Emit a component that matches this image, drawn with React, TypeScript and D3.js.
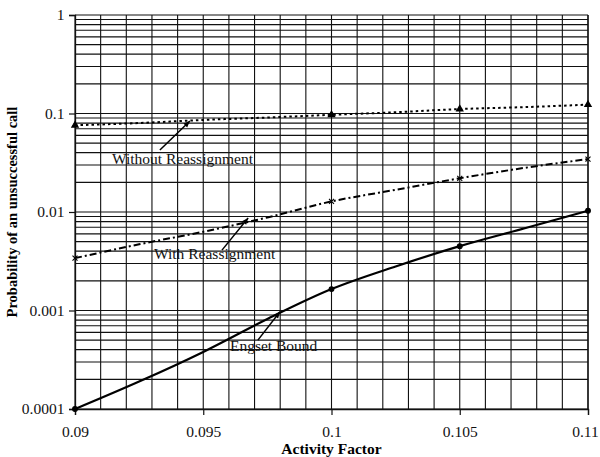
import React, { useEffect, useRef } from "react";
import * as d3 from "d3";

const activity = [0.09, 0.0925, 0.095, 0.0975, 0.1, 0.1025, 0.105, 0.1075, 0.11];
const withoutReassign = [0.076, 0.080, 0.086, 0.091, 0.097, 0.103, 0.111, 0.116, 0.123];
const withReassign = [0.0034, 0.0047, 0.0063, 0.0088, 0.0128, 0.0168, 0.022, 0.028, 0.0345];
const engsetBound = [0.0001, 0.00019, 0.00038, 0.00082, 0.00165, 0.0028, 0.0045, 0.0068, 0.0103];

const xTicks = [0.09, 0.095, 0.1, 0.105, 0.11];
const yTicks = [0.0001, 0.001, 0.01, 0.1, 1];
const yTickLabels = ["0.0001", "0.001", "0.01", "0.1", "1"];

// label text, label anchor (x, y), arrow from (x, y) to (x, y) in data units
const labels = ["Without Reassignment", "With Reassignment", "Engset Bound"];
const labelPos = [[0.09144, 0.031], [0.09308, 0.0033], [0.09604, 0.00039]];
const arrowFrom = [[0.09331, 0.0426], [0.09573, 0.0041], [0.09713, 0.0005]];
const arrowTo = [[0.09448, 0.0839], [0.09675, 0.0087], [0.09799, 0.00097]];

function App() {
  const svgRef = useRef(null);
  const svgWidth = 600;
  const svgHeight = 457;

  useEffect(() => {
    const svg = d3.select(svgRef.current);
    svg.selectAll("*").remove();
    const margin = { top: 15, right: 12, bottom: 48, left: 75 };
    const width = svgWidth - margin.left - margin.right;
    const height = svgHeight - margin.top - margin.bottom;

    const g = svg.append("g").attr("transform", `translate(${margin.left},${margin.top})`);

    const x = d3.scaleLinear().domain([0.09, 0.11]).range([0, width]);
    const y = d3.scaleLog().domain([0.0001, 1]).range([height, 0]);

    // grid: vertical every 0.001
    const vGrid = d3.range(0, 21).map((i) => 0.09 + i * 0.001);
    g.selectAll(".vgrid")
      .data(vGrid)
      .enter()
      .append("line")
      .attr("x1", (d) => x(d))
      .attr("x2", (d) => x(d))
      .attr("y1", 0)
      .attr("y2", height)
      .attr("stroke", "#111")
      .attr("stroke-width", 1.1);

    // grid: horizontal 1..9 per decade
    const hGrid: number[] = [];
    [0.0001, 0.001, 0.01, 0.1].forEach((dec) => {
      for (let k = 1; k <= 9; k++) hGrid.push(dec * k);
    });
    hGrid.push(1);
    g.selectAll(".hgrid")
      .data(hGrid)
      .enter()
      .append("line")
      .attr("x1", 0)
      .attr("x2", width)
      .attr("y1", (d) => y(d))
      .attr("y2", (d) => y(d))
      .attr("stroke", "#111")
      .attr("stroke-width", 1.2);

    // axes
    const xAxis = g
      .append("g")
      .attr("transform", `translate(0,${height})`)
      .call(d3.axisBottom(x).tickValues(xTicks).tickSize(6).tickFormat((d) => String(+(+d).toFixed(3))));
    const yAxis = g
      .append("g")
      .call(d3.axisLeft(y).tickValues(yTicks).tickSize(6).tickFormat((d, i) => yTickLabels[i]));
    [xAxis, yAxis].forEach((a) => {
      a.select(".domain").attr("stroke", "#111").attr("stroke-width", 1.3);
      a.selectAll(".tick line").attr("stroke", "#111").attr("stroke-width", 1.2);
      a.selectAll(".tick text")
        .attr("fill", "#111")
        .style("font-family", "'Liberation Serif', serif")
        .style("font-size", "15.5px");
    });
    xAxis.selectAll(".tick text").attr("dy", "1.2em");
    // keep the last label inside the picture
    xAxis.selectAll(".tick text").filter((d) => d === 0.11).attr("dx", "-3px");
    yAxis.selectAll(".tick text").attr("dx", "-0.1em");

    g.append("line")
      .attr("x1", width).attr("x2", width).attr("y1", 0).attr("y2", height)
      .attr("stroke", "#111").attr("stroke-width", 1.3);

    const series = [
      { values: withoutReassign, dash: "2.5,3", marker: "triangle", width: 2 },
      { values: withReassign, dash: "7,3,2,3", marker: "cross", width: 2 },
      { values: engsetBound, dash: null, marker: "circle", width: 2.2 },
    ];

    const line = d3
      .line<number>()
      .x((d, i) => x(activity[i]))
      .y((d) => y(d))
      .curve(d3.curveMonotoneX);

    series.forEach((s) => {
      g.append("path")
        .datum(s.values)
        .attr("d", line)
        .attr("fill", "none")
        .attr("stroke", "#000")
        .attr("stroke-width", s.width)
        .attr("stroke-dasharray", s.dash);

      const markIdx = [0, 4, 6, 8];
      const symType = s.marker === "triangle" ? d3.symbolTriangle : s.marker === "cross" ? d3.symbolX : d3.symbolCircle;
      g.selectAll(null)
        .data(markIdx)
        .enter()
        .append("path")
        .attr("transform", (i) => `translate(${x(activity[i])},${y(s.values[i])})`)
        .attr("d", d3.symbol().type(symType).size(18))
        .attr("fill", "#000")
        .attr("stroke", "#000")
        .attr("stroke-width", 1.1);
    });

    // annotations
    labels.forEach((t, i) => {
      g.append("text")
        .attr("x", x(labelPos[i][0]))
        .attr("y", y(labelPos[i][1]))
        .style("font-family", "'Liberation Serif', serif")
        .style("font-size", "15.5px")
        .attr("fill", "#111")
        .text(t);
      const x1 = x(arrowFrom[i][0]);
      const y1 = y(arrowFrom[i][1]);
      const x2 = x(arrowTo[i][0]);
      const y2 = y(arrowTo[i][1]);
      g.append("line")
        .attr("x1", x1).attr("y1", y1).attr("x2", x2).attr("y2", y2)
        .attr("stroke", "#000").attr("stroke-width", 1.5);
      const ang = Math.atan2(y2 - y1, x2 - x1);
      const len = 7;
      const spread = 0.4;
      const p1 = [x2 - len * Math.cos(ang - spread), y2 - len * Math.sin(ang - spread)];
      const p2 = [x2 - len * Math.cos(ang + spread), y2 - len * Math.sin(ang + spread)];
      g.append("path")
        .attr("d", `M${x2},${y2}L${p1[0]},${p1[1]}L${p2[0]},${p2[1]}Z`)
        .attr("fill", "#000");
    });

    // axis titles
    svg.append("text")
      .attr("x", margin.left + width / 2)
      .attr("y", svgHeight - 3)
      .attr("text-anchor", "middle")
      .style("font-family", "'Liberation Serif', serif")
      .style("font-size", "15.5px")
      .style("font-weight", "bold")
      .text("Activity Factor");

    svg.append("text")
      .attr("transform", `translate(17,212) rotate(-90)`)
      .attr("text-anchor", "middle")
      .style("font-family", "'Liberation Serif', serif")
      .style("font-size", "14.5px")
      .style("font-weight", "bold")
      .text("Probability of an unsuccessful call");
  }, []);

  return (
    <div style={{ position: "absolute", left: 0, top: 0, background: "#fff" }}>
      <svg ref={svgRef} width={svgWidth} height={svgHeight} style={{ display: "block" }}></svg>
    </div>
  );
}

export default App;
